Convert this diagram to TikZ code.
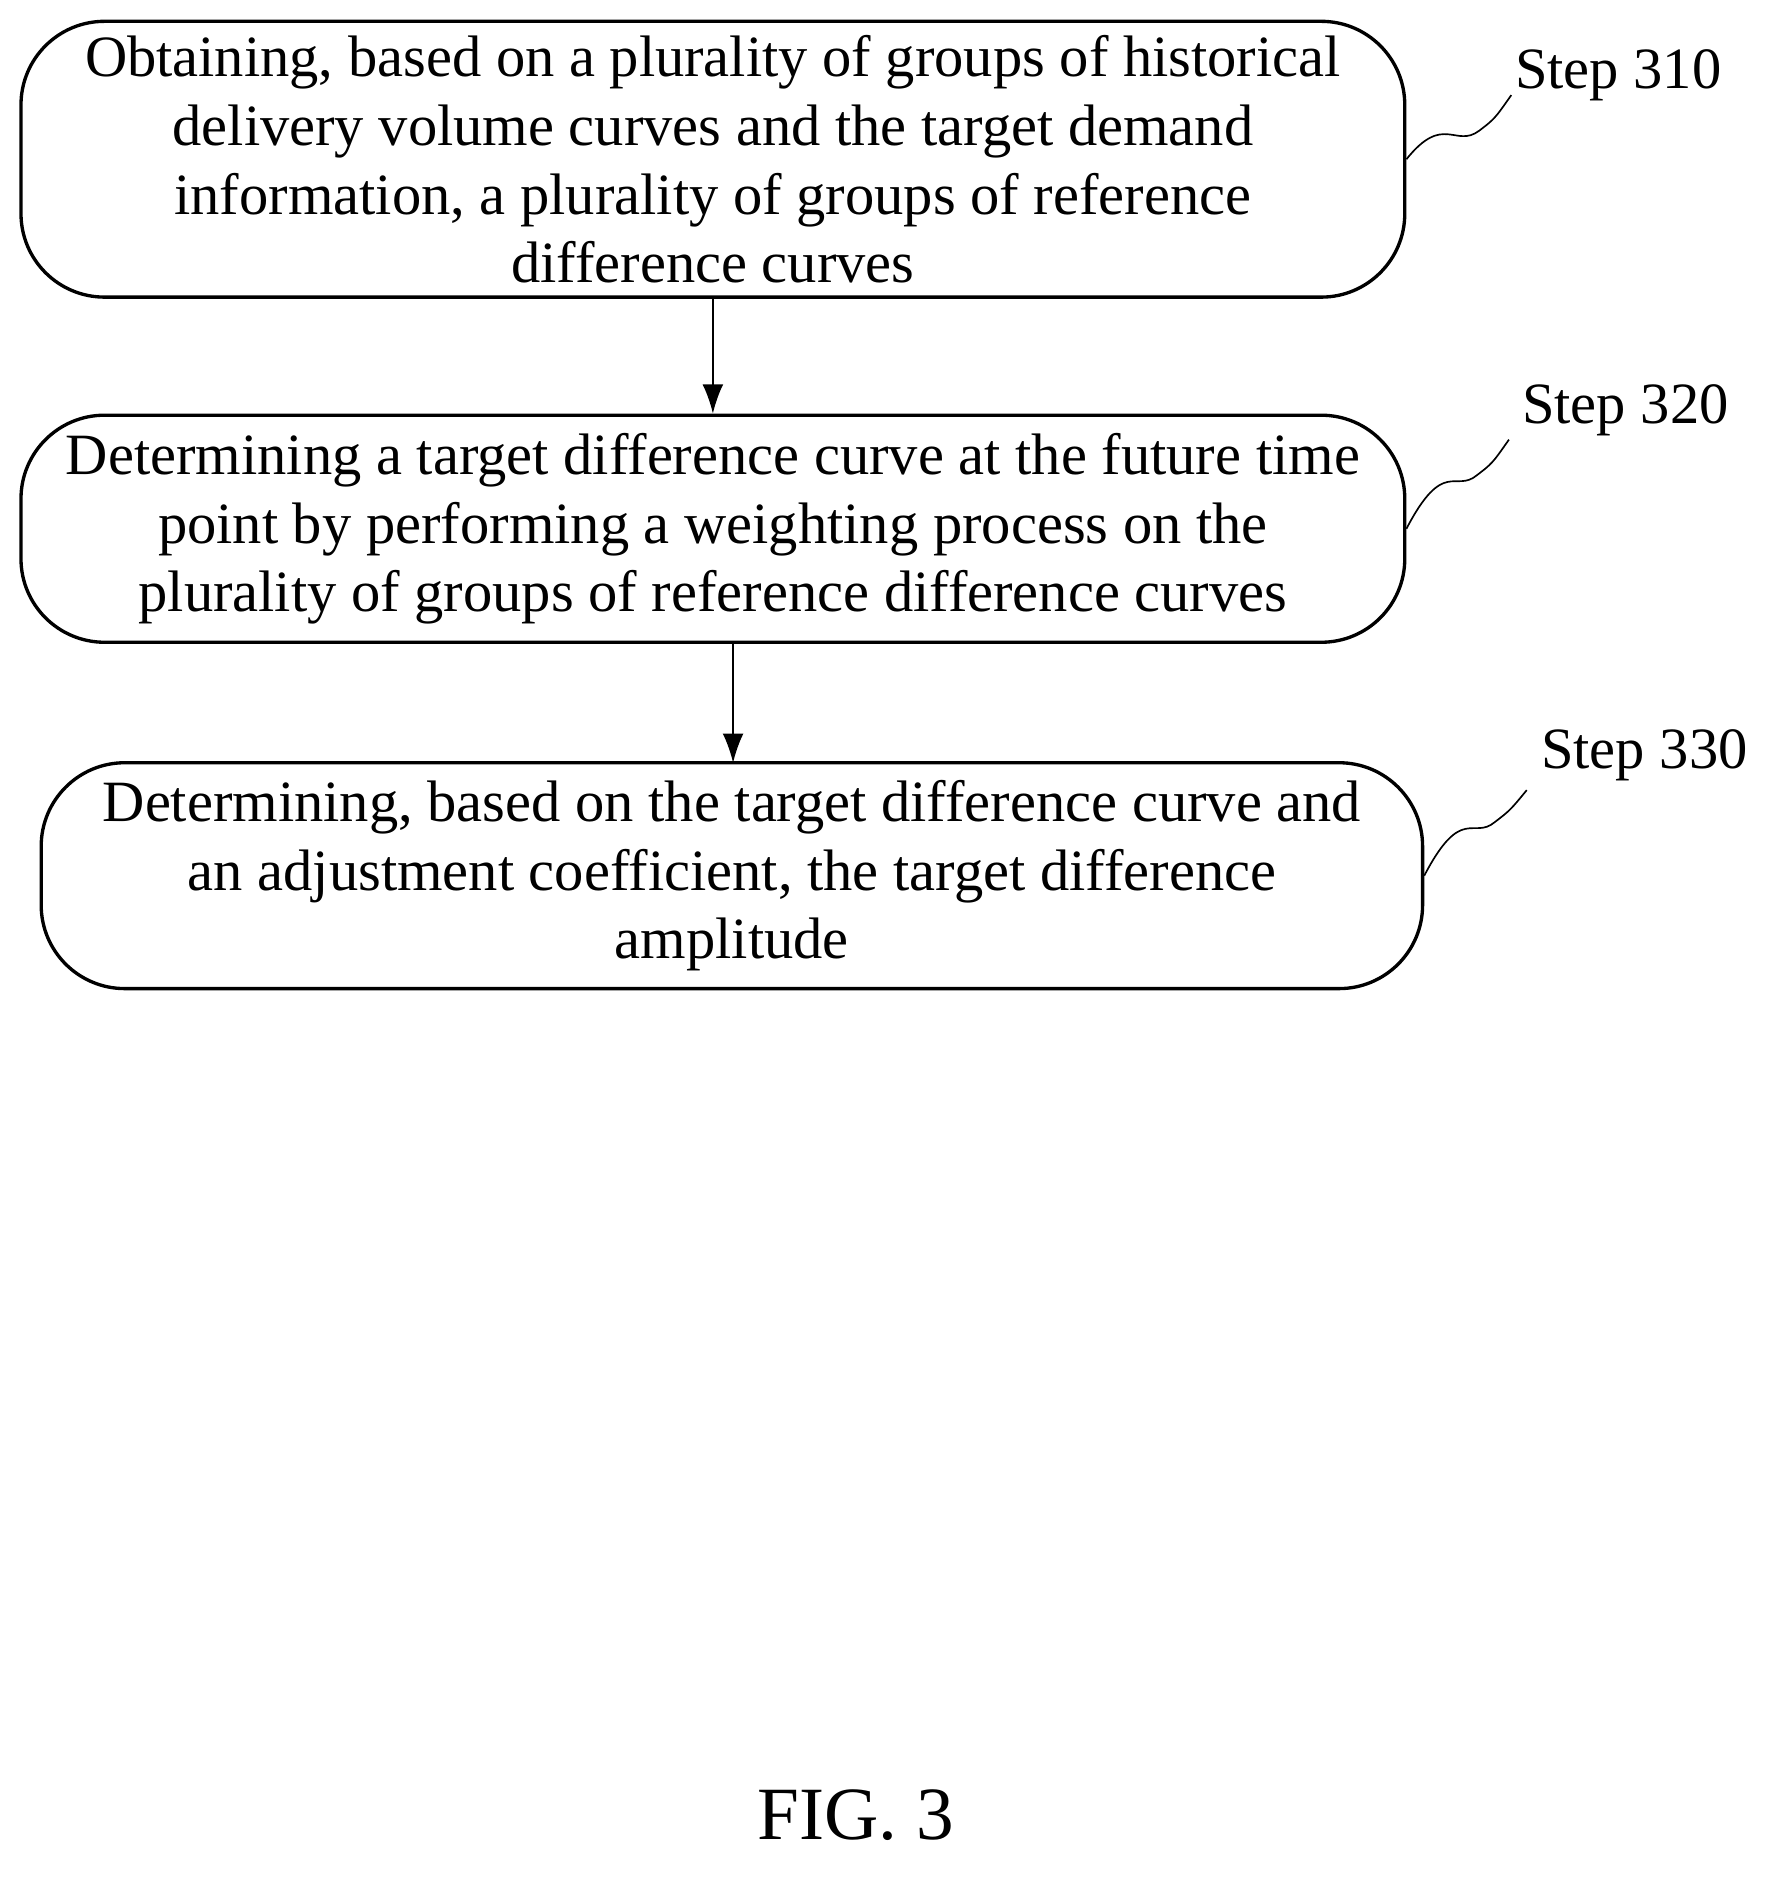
\documentclass[tikz,border=0pt]{standalone}
\usepackage{fontspec}
\setmainfont{Liberation Serif}
\usetikzlibrary{arrows.meta}
\tikzset{
  stepbox/.style={draw=black,thick,rounded corners=20pt,align=center,inner sep=1pt,font=\fontsize{14}{16.5}\selectfont},
  steplabel/.style={font=\fontsize{14}{16.5}\selectfont},
  flow/.style={draw=black,-{Latex[length=7pt,width=5pt]}}
}
\begin{document}
\begin{tikzpicture}[x=0.01cm,y=-0.01cm]
  \useasboundingbox (0,0) rectangle (1500,1584);
  \begin{scope}[every node/.style={stepbox}]
    \node[minimum width=11.64cm,minimum height=2.32cm] (S310) at (600,134)
      {Obtaining, based on a plurality of groups of historical\\ delivery volume curves and the target demand\\ information, a plurality of groups of reference\\ difference curves};
    \node[minimum width=11.64cm,minimum height=1.91cm] (S320) at (600,445)
      {Determining a target difference curve at the future time\\ point by performing a weighting process on the\\ plurality of groups of reference difference curves};
    \node[minimum width=11.62cm,minimum height=1.90cm] (S330) at (616,737)
      {Determining, based on the target difference curve and\\ an adjustment coefficient, the target difference\\ amplitude};
  \end{scope}
  \node[steplabel] (L310) at (1362,63) {Step 310};
  \node[steplabel] (L320) at (1368,345) {Step 320};
  \node[steplabel] (L330) at (1384,636) {Step 330};
  \coordinate (A1) at (1272,80);
  \coordinate (A2) at (1270,370);
  \coordinate (A3) at (1285,665);
  \path[flow] (S310.south) -- (S310.south |- S320.north);
  \path[flow] (617,541) -- (617,642);
  \draw[thin] (S310.east) .. controls (1215,95) and (1225,125) .. (1245,110) .. controls (1258,100) .. (A1);
  \draw[thin] (S320.east) .. controls (1215,385) and (1225,415) .. (1243,400) .. controls (1256,390) .. (A2);
  \draw[thin] (S330.east) .. controls (1230,677) and (1240,707) .. (1258,692) .. controls (1271,682) .. (A3);
  \node[font=\fontsize{18}{21}\selectfont] (fig) at (720,1528) {FIG. 3};
\end{tikzpicture}
\end{document}
